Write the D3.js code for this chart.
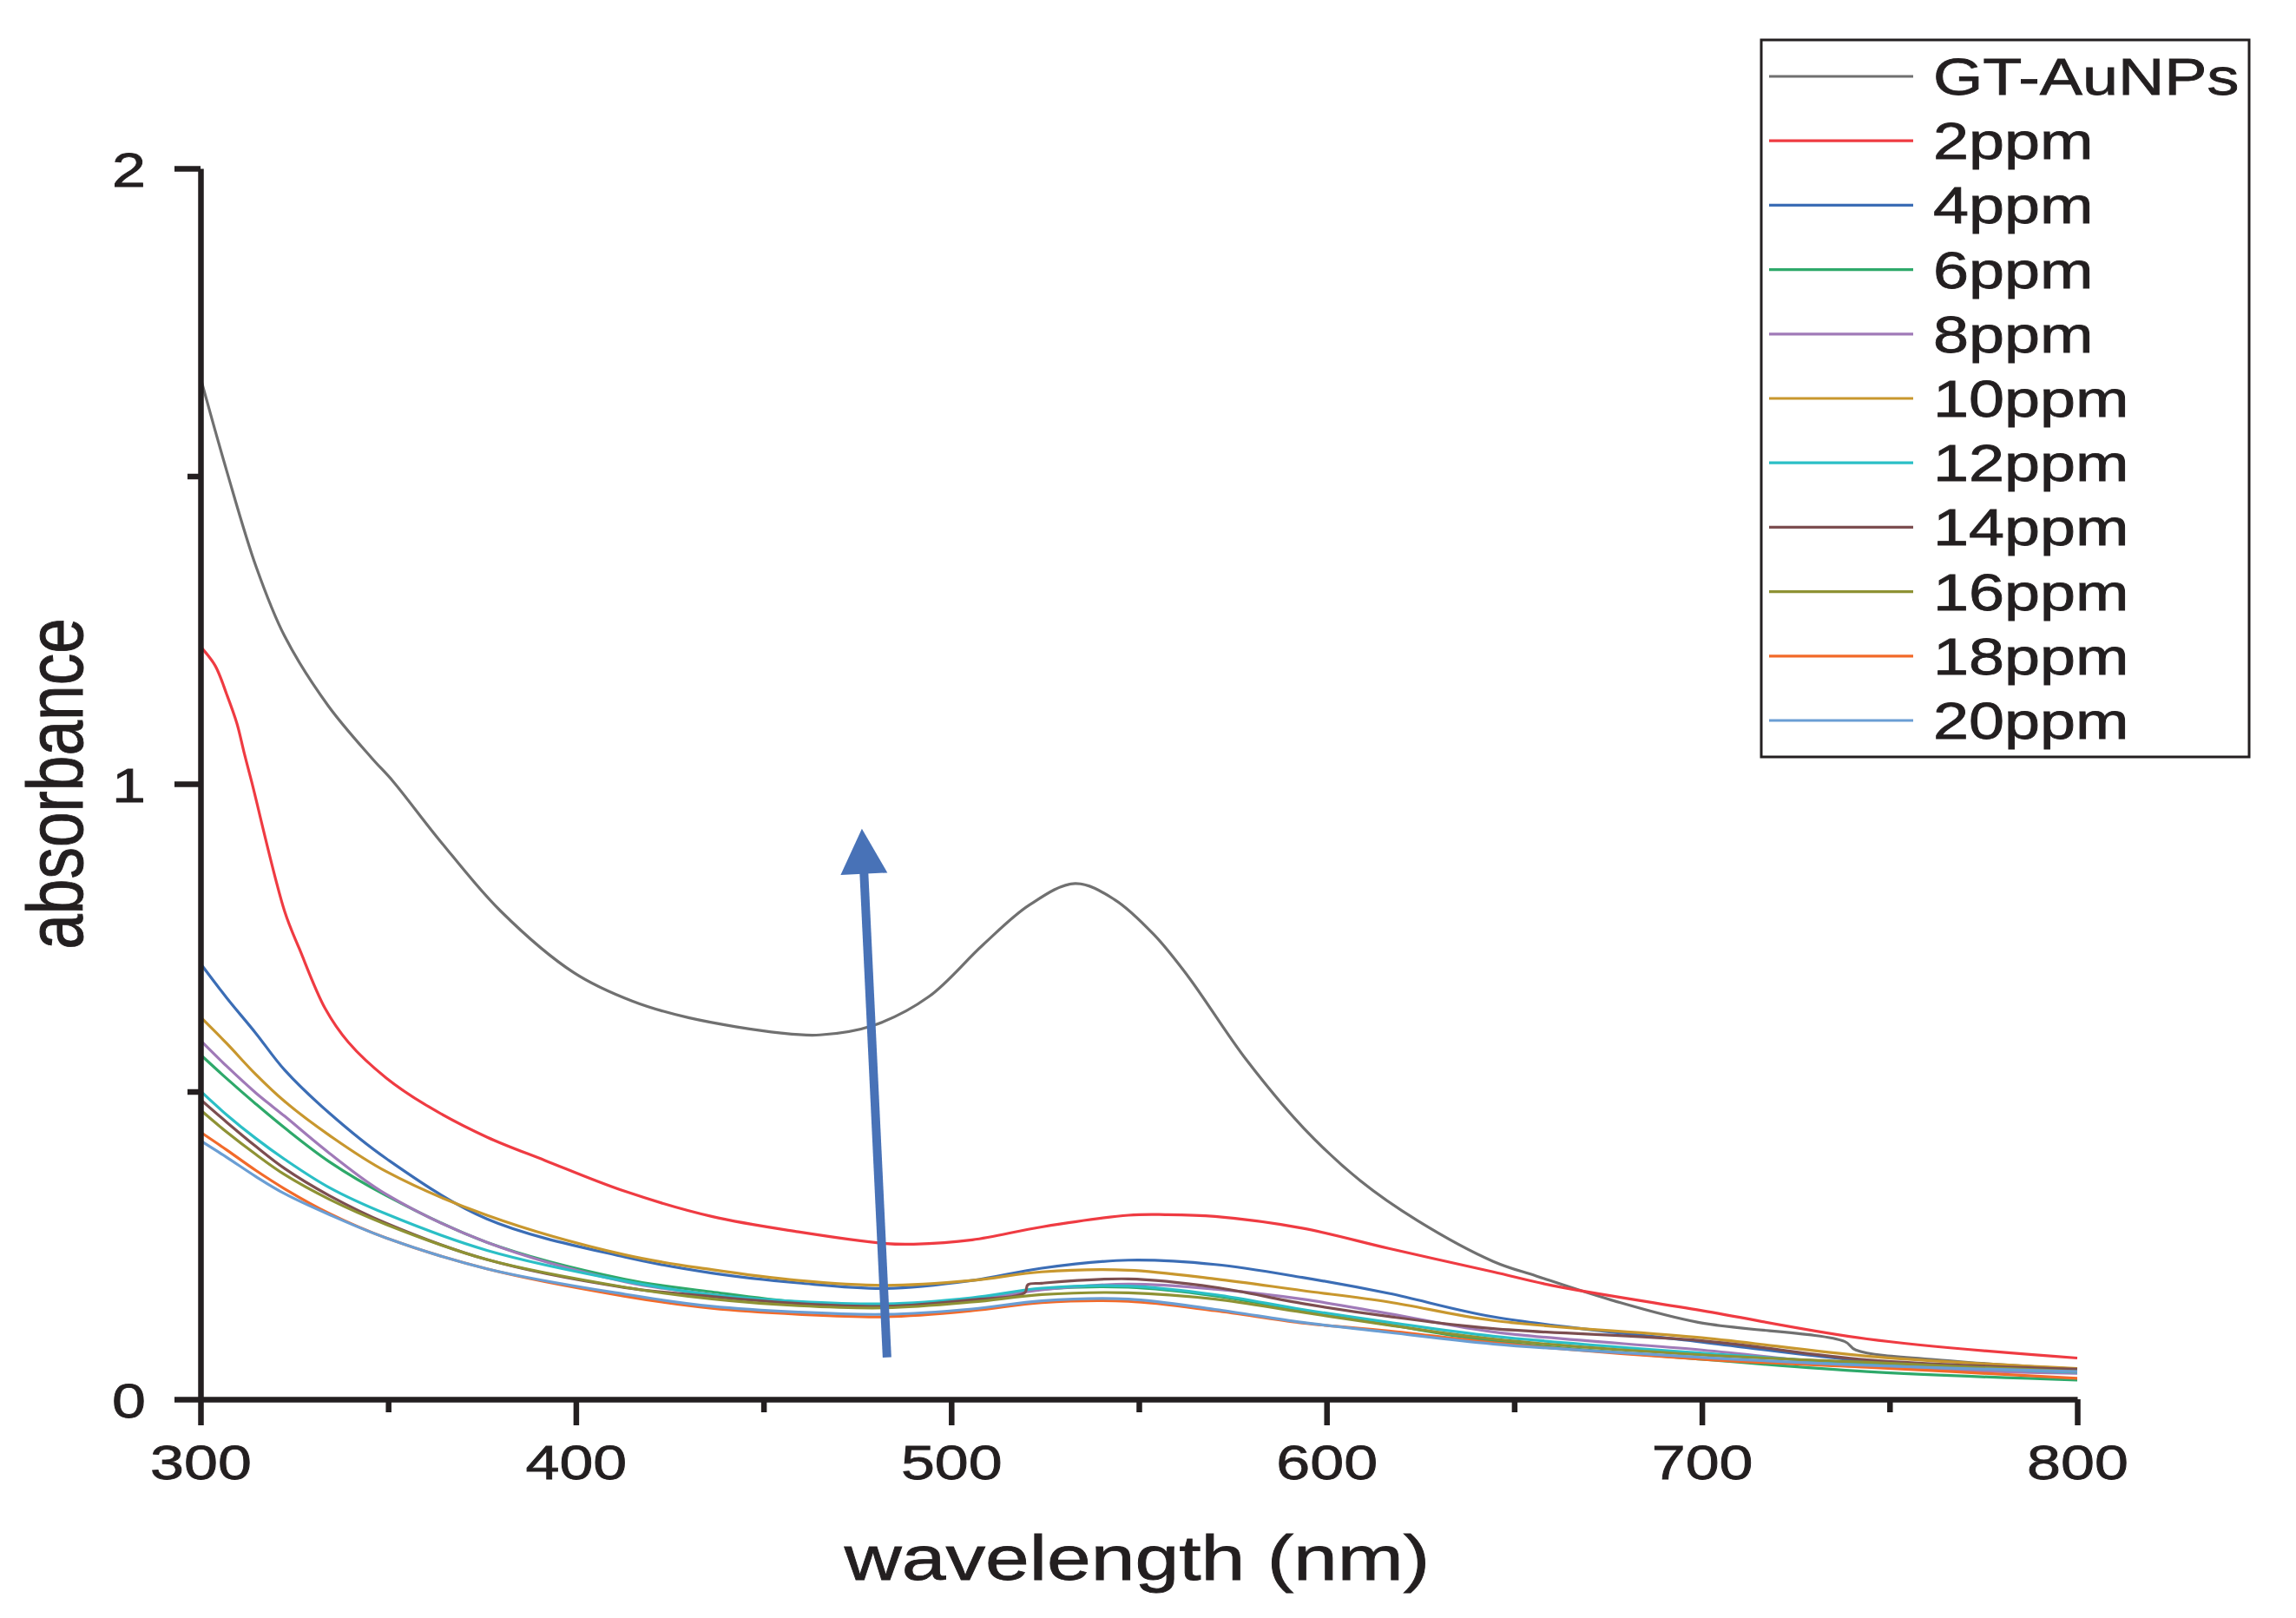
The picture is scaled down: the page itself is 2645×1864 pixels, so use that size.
<!DOCTYPE html>
<html>
<head>
<meta charset="utf-8">
<script src="https://cdn.jsdelivr.net/npm/d3@7"></script>
<style>
  body { margin: 0; background: #fff; }
  text { font-family: "Liberation Sans", Arial, sans-serif; fill: #231f20; stroke: #231f20; stroke-width: 0.8px; }
</style>
</head>
<body>
<svg id="chart" width="2645" height="1864"></svg>
<script>
// ---------- data ---------- //

var seriesNames = ["GT-AuNPs", "2ppm", "4ppm", "6ppm", "8ppm", "10ppm", "12ppm", "14ppm", "16ppm", "18ppm", "20ppm"];
var seriesColors = ["#707070", "#ef3b42", "#3b6db5", "#2ea96a", "#a07ab8", "#c8972e", "#2bbfc6", "#7c4e50", "#8e9234", "#f26a2a", "#6a9ed4"];

var gtAuNPs = [[300,1.66],[307,1.508],[314.8,1.353],[322.4,1.24],[334,1.127],[345.6,1.042],[351.3,1.004],[364,0.906],[380,0.793],[399.5,0.693],[415,0.647],[430,0.62],[454.7,0.595],[465,0.592],[479.5,0.608],[494,0.654],[508.4,0.738],[520.8,0.803],[533,0.838],[543.5,0.812],[554,0.755],[563,0.688],[578.7,0.551],[594,0.44],[609,0.355],[624.3,0.29],[644.4,0.224],[656,0.2],[676,0.161],[699,0.125],[738,0.094],[741,0.08],[767,0.062],[800,0.049]];
var ppm2 = [[300,1.223],[303.9,1.192],[307,1.145],[309.7,1.098],[311.6,1.051],[313.6,1.004],[322.4,0.793],[326.4,0.731],[333.2,0.635],[339.4,0.58],[349.5,0.522],[360.9,0.475],[376.3,0.426],[391.8,0.388],[413,0.338],[436.2,0.297],[459.3,0.272],[482.5,0.253],[490,0.252],[505.6,0.259],[524.1,0.28],[547.2,0.299],[557,0.3],[570.3,0.297],[593.5,0.278],[616.6,0.245],[644.4,0.207],[660,0.185],[700,0.144],[744,0.098],[800,0.067]];
var ppm4 = [[300,0.708],[307,0.652],[314.7,0.595],[322.4,0.535],[334.3,0.465],[349.5,0.391],[376.3,0.293],[413.1,0.231],[436.2,0.205],[459.3,0.189],[482.5,0.18],[505.6,0.193],[524.1,0.213],[547.2,0.226],[570.3,0.219],[593.5,0.198],[616.6,0.172],[644.4,0.134],[700,0.093],[744,0.062],[800,0.046]];
var ppm6 = [[300,0.56],[307,0.521],[314.7,0.48],[322.4,0.441],[334.3,0.386],[349.5,0.331],[376.3,0.255],[413.1,0.195],[436.2,0.1745],[459.3,0.158],[482.5,0.153],[505.6,0.163],[524.1,0.179],[547.2,0.182],[570.3,0.168],[593.5,0.144],[616.6,0.121],[644.4,0.0945],[700,0.065],[744,0.045],[800,0.031]];
var ppm8 = [[300,0.583],[307,0.541],[314.7,0.498],[322.4,0.46],[334.3,0.4],[349.5,0.333],[376.3,0.255],[413.1,0.191],[436.2,0.17],[459.3,0.1556],[482.5,0.151],[505.6,0.1607],[524.1,0.1777],[547.2,0.187],[570.3,0.179],[593.5,0.1627],[616.6,0.139],[644.4,0.1095],[700,0.08],[744,0.054],[800,0.042]];
var ppm10 = [[300,0.621],[307,0.578],[314.7,0.528],[322.4,0.484],[334.3,0.429],[349.5,0.37],[376.3,0.299],[413.1,0.2346],[436.2,0.2106],[459.3,0.193],[482.5,0.185],[505.6,0.193],[524.1,0.207],[547.2,0.2097],[570.3,0.1956],[593.5,0.1767],[616.6,0.158],[644.4,0.128],[700,0.1],[744,0.07],[800,0.05]];
var ppm12 = [[300,0.501],[307,0.462],[314.7,0.424],[322.4,0.39],[334.3,0.344],[349.5,0.301],[376.3,0.242],[413.1,0.192],[436.2,0.17],[459.3,0.159],[482.5,0.155],[505.6,0.165],[524.1,0.1805],[547.2,0.184],[570.3,0.17],[593.5,0.146],[616.6,0.125],[644.4,0.1025],[700,0.075],[744,0.058],[800,0.044]];
var ppm14 = [[300,0.487],[307,0.45],[314.7,0.411],[322.4,0.375],[334.3,0.331],[349.5,0.286],[376.3,0.227],[413.1,0.1815],[436.2,0.167],[459.3,0.1556],[482.5,0.151],[505.6,0.1617],[519.6,0.173],[520.4,0.186],[524.1,0.1886],[547.2,0.1956],[570.3,0.182],[593.5,0.1556],[616.6,0.1345],[644.4,0.1147],[700,0.095],[744,0.064],[800,0.049]];
var ppm16 = [[300,0.47],[307,0.434],[314.7,0.398],[322.4,0.365],[334.3,0.325],[349.5,0.284],[376.3,0.227],[413.1,0.182],[436.2,0.163],[459.3,0.152],[482.5,0.1485],[505.6,0.158],[524.1,0.17],[547.2,0.173],[570.3,0.1627],[593.5,0.1415],[616.6,0.1204],[644.4,0.0978],[700,0.072],[744,0.06],[800,0.045]];
var ppm18 = [[300,0.434],[307,0.405],[314.7,0.372],[322.4,0.342],[334.3,0.302],[349.5,0.262],[376.3,0.212],[413.1,0.1674],[436.2,0.1477],[459.3,0.138],[482.5,0.134],[505.6,0.1439],[524.1,0.157],[547.2,0.159],[570.3,0.1439],[593.5,0.124],[616.6,0.111],[644.4,0.092],[700,0.065],[744,0.052],[800,0.034]];
var ppm20 = [[300,0.42],[307,0.393],[314.7,0.362],[322.4,0.334],[334.3,0.3],[349.5,0.262],[376.3,0.212],[413.1,0.1706],[436.2,0.151],[459.3,0.1415],[482.5,0.138],[505.6,0.1467],[524.1,0.16],[547.2,0.1627],[570.3,0.146],[593.5,0.125],[616.6,0.1086],[644.4,0.0898],[700,0.068],[744,0.055],[800,0.045]];

var allSeries = [gtAuNPs, ppm2, ppm4, ppm6, ppm8, ppm10, ppm12, ppm14, ppm16, ppm18, ppm20];

var xMajorTicks = [300, 400, 500, 600, 700, 800];
var xMinorTicks = [350, 450, 550, 650, 750];
var yMajorTicks = [0, 1, 2];
var yMinorTicks = [0.5, 1.5];

// arrow annotation: tail and tip in data units
var arrowTail = [482.9, 0.068];
var arrowTip = [476.2, 0.927];

// ---------- chart ---------- //

var ink = "#231f20";
var stretch = 1.25; // text in the picture is wider than plain Arial

var svg = d3.select("#chart");
svg.append("rect").attr("width", 2645).attr("height", 1864).attr("fill", "#fff");

var x = d3.scaleLinear().domain([300, 800]).range([231, 2393]);
var y = d3.scaleLinear().domain([0, 2]).range([1612, 194]);

// data lines
var line = d3.line()
		.x(function(d){ return x(d[0]); })
		.y(function(d){ return y(d[1]); })
		.curve(d3.curveCatmullRom.alpha(0.5));

svg.append("g").selectAll("path")
		.data(allSeries)
		.enter().append("path")
		.attr("d", line)
		.attr("fill", "none")
		.attr("stroke", function(d, i){ return seriesColors[i]; })
		.attr("stroke-width", 3.2)
		.attr("stroke-linejoin", "round");

// --- axes --- //
function styleAxis(g){
	g.select(".domain").attr("stroke", ink).attr("stroke-width", 6.5);
	g.selectAll(".tick line").attr("stroke", ink).attr("stroke-width", 6.5);
}

svg.append("g")
		.attr("transform", "translate(0,1612)")
		.call(d3.axisBottom(x).tickValues(xMinorTicks).tickSize(15).tickSizeOuter(0).tickFormat(""))
		.call(styleAxis)
		.call(function(g){ g.select(".domain").remove(); });

var xAxis = svg.append("g")
		.attr("transform", "translate(0,1612)")
		.call(d3.axisBottom(x).tickValues(xMajorTicks).tickSize(30).tickSizeOuter(0).tickFormat(d3.format("d")))
		.call(styleAxis);

xAxis.selectAll(".tick text")
		.attr("y", null).attr("dy", null)
		.attr("transform", "translate(0,92) scale(" + stretch + ",1)")
		.attr("text-anchor", "middle")
		.attr("font-size", 56)
		.attr("font-family", "Liberation Sans, Arial, sans-serif")
		.attr("fill", ink);

svg.append("g")
		.attr("transform", "translate(231,0)")
		.call(d3.axisLeft(y).tickValues(yMinorTicks).tickSize(15).tickSizeOuter(0).tickFormat(""))
		.call(styleAxis)
		.call(function(g){ g.select(".domain").remove(); });

var yAxis = svg.append("g")
		.attr("transform", "translate(231,0)")
		.call(d3.axisLeft(y).tickValues(yMajorTicks).tickSize(30).tickSizeOuter(0).tickFormat(d3.format("d")))
		.call(styleAxis);

yAxis.selectAll(".tick text")
		.attr("x", null).attr("dy", null)
		.attr("transform", "translate(-63,20) scale(" + stretch + ",1)")
		.attr("text-anchor", "end")
		.attr("font-size", 56)
		.attr("font-family", "Liberation Sans, Arial, sans-serif")
		.attr("fill", ink);

// axis titles
svg.append("text")
		.attr("transform", "translate(1310,1820) scale(" + stretch + ",1)")
		.attr("text-anchor", "middle")
		.attr("font-size", 73)
		.text("wavelength (nm)");

svg.append("text")
		.attr("transform", "translate(95,903) scale(" + stretch + ",1) rotate(-90)")
		.attr("text-anchor", "middle")
		.attr("font-size", 73)
		.text("absorbance");

// --- arrow --- //
var tx = x(arrowTail[0]), ty = y(arrowTail[1]);
var hx = x(arrowTip[0]), hy = y(arrowTip[1]);
var len = Math.sqrt((hx - tx) * (hx - tx) + (hy - ty) * (hy - ty));
var ux = (hx - tx) / len, uy = (hy - ty) / len;
var headLen = 52, headHalf = 27;
var bx = hx - ux * headLen, by = hy - uy * headLen;

svg.append("line")
		.attr("x1", tx).attr("y1", ty)
		.attr("x2", bx + ux * 2).attr("y2", by + uy * 2)
		.attr("stroke", "#4872b7")
		.attr("stroke-width", 10);

svg.append("polygon")
		.attr("points", [
			[hx, hy],
			[bx - uy * headHalf, by + ux * headHalf],
			[bx + uy * headHalf, by - ux * headHalf]
		].map(function(p){ return p.join(","); }).join(" "))
		.attr("fill", "#4872b7");

// --- legend --- //
var legend = svg.append("g");

legend.append("rect")
		.attr("x", 2029).attr("y", 46)
		.attr("width", 562).attr("height", 826)
		.attr("fill", "#fff")
		.attr("stroke", ink)
		.attr("stroke-width", 3);

var rows = legend.selectAll("g.row")
		.data(seriesNames)
		.enter().append("g")
		.attr("class", "row")
		.attr("transform", function(d, i){ return "translate(0," + (88 + i * 74.2) + ")"; });

rows.append("line")
		.attr("x1", 2038).attr("x2", 2204)
		.attr("y1", 0).attr("y2", 0)
		.attr("stroke", function(d, i){ return seriesColors[i]; })
		.attr("stroke-width", 3.2);

rows.append("text")
		.attr("transform", "translate(2227,21) scale(" + stretch + ",1)")
		.attr("font-size", 59)
		.text(function(d){ return d; });
</script>
</body>
</html>
